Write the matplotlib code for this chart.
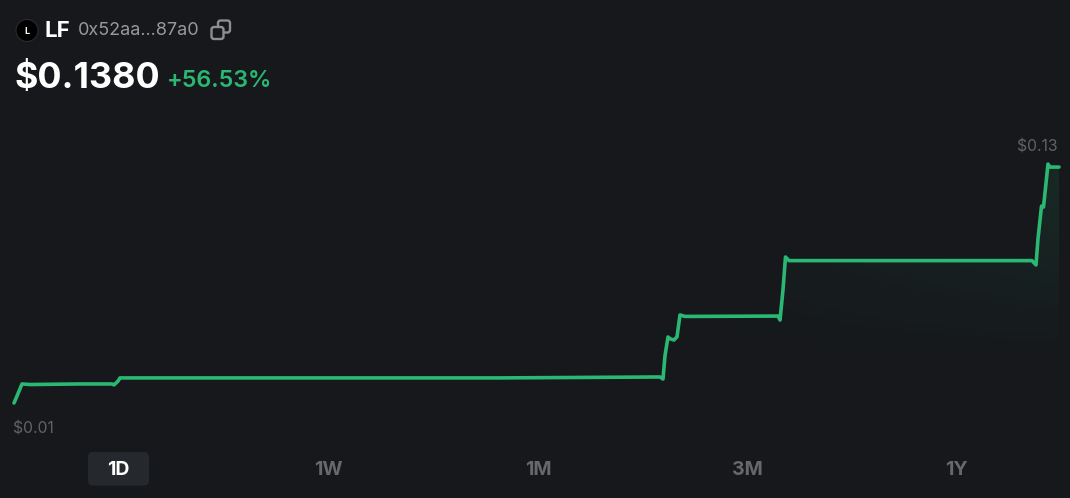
import numpy as np
import matplotlib
matplotlib.use("Agg")
import matplotlib.pyplot as plt
from matplotlib.patches import FancyBboxPatch, Circle, Polygon
from matplotlib.colors import LinearSegmentedColormap

times = [0, 3, 8, 16, 66, 98, 100, 104, 106, 111, 286, 486, 646, 649, 651, 654, 656, 660, 663, 666, 671,
         764, 766, 769, 771.5, 775, 1018, 1022, 1024, 1027.5, 1029.5, 1034, 1036, 1040, 1045]
prices = [.0129, .0166, .0230, .0227, .0230, .0230, .0225, .0245, .0262, .0262, .0262, .0262, .0267, .0256, .0380, .0479,
          .0470, .0463, .0480, .0596, .0588, .0590, .0569, .0730, .0903, .0884, .0884, .0861, .1000, .1173, .1168, .1396, .1380, .1380, .1380]
range_tabs = ["1D", "1W", "1M", "3M", "1Y"]
tab_x = [118, 328, 538, 747.5, 956]

BG = "#16181c"
GREEN = "#2ab873"
W, H = 1070, 498
fig = plt.figure(figsize=(W / 100, H / 100), dpi=100, facecolor=BG)
plt.rcParams["font.family"] = ["Inter", "DejaVu Sans"]

ax = fig.add_axes([14 / W, 1 - 403 / H, 1045 / W, (403 - 165) / H])
ax.set_xlim(0, 1045)
ax.set_ylim(.0129, .1391)
ax.axis("off")
ax.patch.set_alpha(0)

t = np.array(times, float)
p = np.array(prices, float)

# gradient under the line
ramp = LinearSegmentedColormap.from_list("g", [(0.15, 0.71, 0.44, 0.0), (0.15, 0.71, 0.44, 0.11)])
gx = np.linspace(0, 1, 200)
gy = np.linspace(1, 0, 200)
X, Y = np.meshgrid(gx, gy)
grad = np.clip((X - 0.62) / 0.38, 0, 1) ** 0.7 * np.clip((Y - 0.15) / 0.75, 0, 1)
y0 = ax.get_ylim()
im = ax.imshow(grad, extent=[0, 1045, y0[0], y0[1]], cmap=ramp, vmin=0, vmax=1,
               aspect="auto", origin="upper", zorder=1)
poly = Polygon(np.column_stack([np.r_[t, t[-1], t[0]], np.r_[p, y0[0], y0[0]]]),
               closed=True, transform=ax.transData, facecolor="none", edgecolor="none")
ax.add_patch(poly)
im.set_clip_path(poly)

ax.plot(t, p, color=GREEN, lw=2.6, solid_joinstyle="round", solid_capstyle="round", zorder=3, clip_on=False)

# overlay in pixel coordinates
ov = fig.add_axes([0, 0, 1, 1], facecolor="none")
ov.set_xlim(0, W)
ov.set_ylim(H, 0)
ov.axis("off")

ov.add_patch(Circle((27, 30.5), 11, facecolor="#000000", edgecolor="#2a2c30", lw=0.8))
ov.text(27, 31, "L", color="white", fontsize=6.5, fontweight="bold", ha="center", va="center")
ov.text(45, 31, "LF", color="white", fontsize=16, fontweight="bold", ha="left", va="center")
ov.text(78, 30.5, "0x52aa...87a0", color="#96989c", fontsize=13, ha="left", va="center")
ov.add_patch(FancyBboxPatch((218, 20.5), 12, 12, boxstyle="round,pad=0,rounding_size=2.5",
                            facecolor="none", edgecolor="#8c8e92", lw=1.7))
ov.add_patch(FancyBboxPatch((211.5, 27), 12, 12, boxstyle="round,pad=0,rounding_size=2.5",
                            facecolor=BG, edgecolor="#8c8e92", lw=1.7))
ov.text(15, 78, "$0.1380", color="white", fontsize=25.8, fontweight="bold", ha="left", va="center")
ov.text(167, 81, "+56.53%", color=GREEN, fontsize=16.8, fontweight="semibold", ha="left", va="center")

ov.text(1058, 147, "$0.13", color="#606266", fontsize=11.3, ha="right", va="center")
ov.text(13, 429, "$0.01", color="#606266", fontsize=11.3, ha="left", va="center")

ov.add_patch(FancyBboxPatch((88, 452), 61, 33.5, boxstyle="round,pad=0,rounding_size=5",
                            facecolor="#25282c", edgecolor="none"))
for i, (lab, x) in enumerate(zip(range_tabs, tab_x)):
    ov.text(x, 469.5, lab, color="white" if i == 0 else "#66686c", fontsize=14,
            fontweight="bold", ha="center", va="center")

fig.savefig("out.png", dpi=100, facecolor=BG)
